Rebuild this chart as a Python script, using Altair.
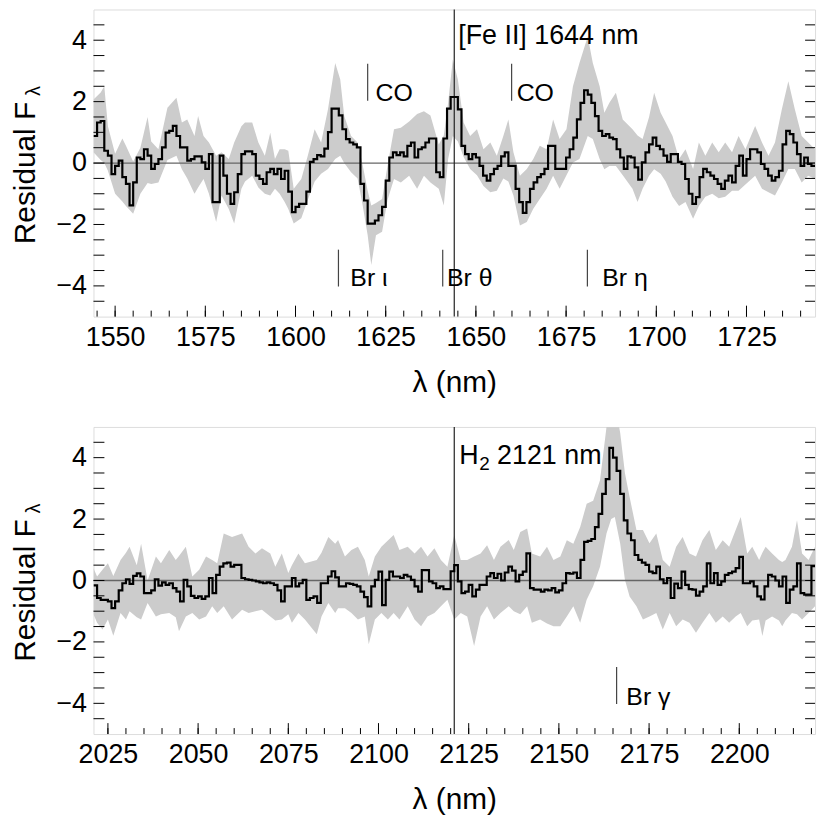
import altair as alt
import pandas as pd

# ---------------- data ----------------
lam_top_start = 1544
flux_top = [
    0.88, 1.32, 1.37, 0.40, 0.24, -0.36, -0.09, 0.08, -0.46, -0.68,
    -1.38, -0.63, 0.18, 0.13, 0.45, 0.24, -0.19, -0.03, 0.13, 0.51,
    0.99, 1.05, 1.21, 0.88, 0.51, 0.51, 0.08, 0.13, 0.22, 0.22,
    0.02, -0.19, 0.29, -1.27, -1.27, 0.24, -0.41, -1.00, -1.33, -0.95,
    -0.36, 0.29, 0.38, 0.38, 0.29, -0.41, -0.52, -0.68, -0.30, -0.19,
    -0.36, -0.19, -0.52, -0.25, -0.93, -1.60, -1.43, -1.33, -1.33, -0.93,
    0.04, 0.13, 0.26, 0.22, 0.47, 1.01, 1.77, 1.77, 1.55, 1.10,
    0.78, 0.67, 0.61, 0.51, -0.68, -1.22, -1.97, -1.97, -1.87, -1.70,
    -1.43, -0.57, 0.18, 0.35, 0.26, 0.35, 0.22, 0.56, 0.67, 0.18,
    0.45, 0.51, 0.67, 0.80, 0.80, -0.30, -0.46, 0.80, 1.77, 2.15,
    2.15, 1.75, 0.56, 0.29, 0.13, 0.29, 0.18, -0.09, -0.41, -0.57,
    -0.36, -0.19, -0.09, 0.22, 0.35, -0.09, -0.09, -0.84, -1.27, -1.62,
    -1.27, -0.84, -0.63, -0.46, -0.36, -0.19, 0.56, 0.56, -0.19, -0.19,
    -0.19, 0.18, 0.45, 0.83, 1.42, 1.96, 2.37, 2.23, 1.96, 1.53,
    1.05, 0.88, 0.94, 0.83, 0.78, 0.45, 0.18, -0.19, 0.22, 0.18,
    -0.14, -0.54, 0.02, 0.35, 0.61, 0.83, 0.56, 0.45, 0.24, 0.04,
    0.29, 0.29, 0.04, -0.03, -0.52, -1.00, -1.33, -1.11, -0.46, -0.19,
    -0.30, -0.41, -0.52, -0.68, -0.84, -0.57, -0.41, -0.63, -0.09, 0.24,
    -0.41, 0.13, 0.45, 0.45, 0.35, -0.03, -0.19, -0.41, -0.57, -0.46,
    -0.25, 0.61, 1.05, 0.94, 0.67, 0.29, -0.09, 0.18, -0.03, -0.09,
]

env_top_lam = [
    1544, 1546, 1547, 1548, 1550, 1552, 1553, 1555, 1557, 1559,
    1560, 1562, 1564.5, 1567, 1568.5, 1570, 1572, 1573, 1574.5, 1576,
    1578, 1579.5, 1581.5, 1583, 1585, 1586, 1588, 1589.7, 1591.5, 1593,
    1594.3, 1595.6, 1597, 1598, 1599.5, 1601.6, 1603.4, 1605.3, 1607.1, 1609,
    1611, 1612.4, 1613.5, 1615.4, 1617.2, 1618.5, 1620, 1621, 1622.3, 1624,
    1625.5, 1627.3, 1629.2, 1631.5, 1633.7, 1635.6, 1637.4, 1639.7, 1641.1, 1642.3,
    1643.6, 1645, 1646.6, 1648.4, 1650.3, 1652.1, 1654, 1655.8, 1657.6, 1659,
    1660.4, 1662.2, 1664.1, 1665.9, 1667.7, 1669.6, 1671.4, 1673.2, 1675.1, 1676.9,
    1678.7, 1681, 1682.4, 1684.3, 1685.6, 1687, 1688.8, 1690.7, 1693.4, 1694.8,
    1696.2, 1698, 1699.4, 1701.2, 1702.6, 1704.5, 1706.3, 1708.1, 1710.2, 1711.8,
    1713.6, 1715.5, 1717.3, 1719.1, 1721, 1722.8, 1724.7, 1727.4, 1729.3, 1731.1,
    1732.9, 1734.8, 1736.6, 1738.4, 1740.3, 1742.1, 1744,
]
env_top_lo = [
    0.35, 0.10, 0.00, -0.25, -1.00, -1.25, -1.40, -1.65, -1.00, -0.65,
    -0.68, -0.63, 0.10, 0.24, -0.20, -0.50, -1.00, -0.80, -0.52, -1.00,
    -1.92, -1.06, -1.50, -1.97, -0.84, -0.60, -0.41, -0.80, -1.00, -1.06,
    -0.84, -1.00, -1.27, -1.50, -1.97, -1.80, -1.20, -0.60, -0.35, -0.19,
    0.13, 0.24, 0.00, -0.30, -0.50, -1.30, -2.35, -3.32, -2.35, -2.24,
    -1.20, -0.52, -0.63, -0.41, -0.84, -0.41, -0.63, -0.84, -1.38, 0.13,
    0.88, 0.70, 0.20, -0.19, -0.40, -0.75, -0.95, -0.90, -0.50, -0.60,
    -1.06, -2.03, -1.92, -1.49, -1.17, -0.84, -0.41, -0.84, -0.40, 0.02,
    0.13, 0.88, 0.78, 0.13, -0.20, -0.10, -0.10, -0.40, -0.84, -1.27,
    -0.84, -0.41, -0.20, -0.35, -0.60, -1.10, -1.40, -1.27, -1.81, -1.40,
    -1.10, -1.00, -1.15, -1.10, -0.90, -0.90, -0.70, -0.41, -0.84, -0.95,
    -1.06, -0.63, -0.19, -0.19, -0.63, -0.41, -0.52,
]
env_top_hi = [
    2.07, 2.30, 2.50, 1.20, 0.30, 0.80, 0.56, 0.05, 0.50, 1.50,
    0.70, 0.45, 1.80, 2.13, 1.32, 1.42, 0.88, 1.53, 0.88, 0.67,
    0.24, 0.35, 0.13, 0.67, 1.20, 1.32, 1.32, 0.67, 0.24, 0.99,
    0.13, 0.45, 0.45, 0.40, -0.84, -0.52, 0.24, 1.10, 0.67, 1.75,
    3.26, 2.72, 1.53, 0.88, 0.67, 0.00, -0.90, -1.38, -1.30, -1.17,
    -0.09, 1.10, 1.15, 1.35, 1.60, 1.69, 1.55, 0.60, 0.90, 1.96,
    3.37, 2.72, 1.32, 0.88, 1.10, 0.45, 0.67, 0.24, 0.88, 1.42,
    0.35, -0.41, -0.19, 0.13, 0.56, 0.45, 1.42, 0.78, 1.10, 2.50,
    3.26, 4.12, 3.26, 2.50, 1.64, 1.96, 2.29, 1.42, 1.10, 0.90,
    0.78, 1.50, 2.29, 1.64, 1.32, 0.88, 0.13, 0.45, -0.19, 0.67,
    0.24, 0.67, 0.35, 0.67, 0.35, 0.88, 0.45, 1.21, 0.67, 0.24,
    0.67, 1.75, 2.66, 1.75, 0.88, 0.67, 0.45,
]

lam_bot_start = 2021
flux_bot = [
    -0.16, -0.57, -0.63, -0.63, -0.68, -0.90, -0.68, -0.32, -0.09, 0.04,
    -0.11, 0.15, 0.23, 0.13, -0.41, -0.41, -0.32, 0.04, -0.17, -0.06,
    -0.14, -0.09, -0.25, -0.36, -0.68, 0.02, -0.19, -0.50, -0.57, -0.52,
    -0.60, -0.52, 0.08, -0.41, 0.18, 0.45, 0.56, 0.58, 0.45, 0.51,
    0.51, 0.08, 0.04, 0.02, 0.00, -0.03, -0.06, -0.09, -0.06, -0.09,
    -0.14, -0.32, -0.68, -0.19, -0.19, 0.08, -0.19, -0.09, 0.02, -0.63,
    -0.57, -0.52, -0.73, -0.09, -0.09, 0.13, 0.30, 0.10, -0.19, -0.19,
    -0.09, -0.11, -0.14, -0.19, -0.36, -0.54, -0.84, -0.19, 0.02, 0.29,
    -0.80, 0.02, 0.29, 0.13, 0.13, 0.08, 0.18, 0.13, 0.02, -0.19,
    -0.36, 0.34, 0.34, -0.03, -0.09, -0.25, -0.19, -0.28, -0.28, 0.30,
    0.50, -0.03, -0.41, -0.36, -0.14, -0.52, -0.30, -0.14, -0.14, 0.13,
    0.24, 0.08, 0.22, 0.00, 0.26, 0.45, 0.32, -0.03, 0.18, 0.29,
    0.88, -0.25, -0.30, -0.30, -0.36, -0.30, -0.32, -0.25, -0.39, -0.32,
    -0.09, 0.24, 0.22, 0.26, 0.08, 0.67, 1.26, 1.29, 1.35, 1.74,
    2.17, 2.82, 3.30, 4.32, 4.00, 3.57, 2.82, 1.96, 1.53, 1.31,
    0.83, 0.67, 0.58, 0.51, 0.29, 0.24, 0.45, 0.04, -0.09, 0.08,
    -0.57, -0.10, -0.25, 0.29, -0.14, -0.28, -0.30, -0.49, -0.36, -0.19,
    0.56, -0.09, 0.24, -0.14, -0.03, 0.18, 0.24, 0.29, 0.40, 0.77,
    -0.09, -0.09, -0.03, -0.19, -0.52, -0.62, -0.19, 0.18, 0.13, 0.00,
    -0.19, 0.13, -0.73, -0.30, -0.19, 0.56, -0.41, -0.46, -0.46, 0.47,
]

env_bot_lam = [
    2021, 2022, 2023.5, 2025, 2026.5, 2028.5, 2030, 2031, 2033, 2034.2,
    2036, 2038.3, 2039.7, 2042, 2043.8, 2044.7, 2046.6, 2048.4, 2050.3, 2052.2,
    2053.9, 2055.3, 2057.1, 2059.4, 2062.2, 2064, 2065.9, 2067.7, 2070, 2071.4,
    2073.2, 2075, 2076, 2077.8, 2079.6, 2082.9, 2084.2, 2086.1, 2088, 2088.8,
    2090.7, 2092.5, 2094.3, 2096.2, 2097.3, 2099, 2100.8, 2102.6, 2104.2, 2105.8,
    2108.1, 2110, 2111.8, 2113.6, 2115.5, 2117.3, 2119.1, 2121, 2122.8, 2124.6,
    2126.5, 2128.3, 2130.1, 2132, 2133.8, 2136.1, 2137.5, 2139.3, 2141.2, 2142.5,
    2144.8, 2146.7, 2148.5, 2150.4, 2152.2, 2154, 2155.9, 2157.7, 2159.5, 2161.4,
    2163.2, 2164.5, 2165.5, 2167, 2168.3, 2169.6, 2171.5, 2173.3, 2175.1, 2177,
    2178.8, 2180.7, 2182.5, 2184.3, 2186.2, 2188, 2189.8, 2191.7, 2193.5, 2195.4,
    2197.2, 2199, 2200.4, 2202.2, 2203.6, 2205.5, 2206.4, 2207.3, 2209.1, 2211,
    2211.9, 2212.8, 2214.6, 2216, 2217.4, 2219.2, 2221,
]
env_bot_lo = [
    -1.10, -1.38, -1.60, -1.27, -1.80, -1.06, -1.27, -1.00, -1.20, -1.27,
    -0.73, -1.17, -1.10, -1.06, -1.20, -1.65, -1.17, -1.06, -1.27, -1.17,
    -0.84, -1.06, -0.84, -1.27, -0.95, -1.06, -1.00, -0.95, -1.17, -1.30,
    -1.27, -1.10, -1.38, -1.06, -1.27, -1.75, -1.17, -0.73, -1.06, -0.90,
    -0.90, -1.06, -1.27, -1.17, -2.08, -1.27, -1.06, -1.27, -1.06, -1.27,
    -0.84, -1.27, -1.49, -1.17, -1.06, -0.84, -0.63, -1.27, -1.06, -1.17,
    -2.13, -1.17, -0.84, -1.27, -1.06, -0.84, -1.00, -1.10, -0.84, -1.38,
    -1.27, -1.40, -1.49, -1.49, -1.17, -0.84, -1.38, -0.63, -0.19, 0.45,
    1.53, 2.00, 2.07, 1.20, 0.02, -0.52, -0.84, -1.27, -1.17, -1.06,
    -1.60, -1.06, -1.49, -1.27, -1.38, -1.70, -1.38, -1.06, -1.38, -1.17,
    -1.38, -1.17, -1.06, -1.49, -1.30, -1.27, -1.81, -1.30, -1.17, -1.30,
    -1.49, -1.30, -1.06, -1.10, -1.27, -1.06, -0.84,
]
env_bot_hi = [
    0.40, 0.13, 0.35, 0.56, 0.15, 0.67, 0.90, 1.10, 0.50, 1.20,
    0.00, 0.78, 0.56, 0.99, 0.67, 0.80, 1.10, 0.13, 0.35, 0.78,
    0.67, 0.56, 1.53, 1.42, 1.53, 1.10, 0.88, 1.05, 0.88, 0.45,
    0.88, 0.24, 0.50, 0.88, 0.56, 0.67, 0.90, 1.42, 1.20, 1.32,
    0.78, 0.99, 1.10, 0.67, 0.13, 0.78, 1.10, 1.30, 1.48, 0.99,
    1.10, 0.88, 1.10, 0.78, 1.05, 0.67, 0.45, 1.48, 0.67, 0.67,
    0.78, 0.88, 1.15, 0.67, 1.10, 1.32, 0.99, 1.58, 1.69, 0.88,
    0.78, 1.10, 0.67, 0.78, 1.31, 1.20, 1.74, 2.50, 2.60, 3.26,
    5.00, 5.80, 5.80, 4.80, 3.50, 2.72, 1.64, 1.64, 1.21, 1.53,
    0.67, 0.45, 1.10, 1.42, 0.88, 0.78, 1.31, 1.64, 0.99, 1.31,
    1.10, 1.64, 2.07, 0.88, 1.10, 0.67, 0.90, 1.10, 0.88, 0.67,
    0.60, 0.67, 1.10, 1.96, 0.88, 0.67, 1.10,
]

x_labels_top = [1550, 1575, 1600, 1625, 1650, 1675, 1700, 1725]
x_labels_bot = [2025, 2050, 2075, 2100, 2125, 2150, 2175, 2200]
y_labels = [-4, -2, 0, 2, 4]
y_ticks = [-4.5, -4, -3.5, -3, -2.5, -2, -1.5, -1, -0.5, 0, 0.5, 1, 1.5, 2, 2.5, 3, 3.5, 4, 4.5]

top_line_at = 1644
bot_line_at = 2121

top_markers = pd.DataFrame({
    "x": [1620.0, 1659.9, 1611.9, 1640.8, 1680.9],
    "y": [2.03, 2.03, -2.82, -2.82, -2.82],
    "y2": [3.23, 3.23, -4.02, -4.02, -4.02],
})
top_big = pd.DataFrame({"x": [1645.1], "y": [4.13], "t": ["[Fe II] 1644 nm"]})
top_small = pd.DataFrame({
    "x": [1622.2, 1661.3, 1615.2, 1642.0, 1685.0],
    "y": [2.27, 2.27, -3.75, -3.75, -3.75],
    "t": ["CO", "CO", "Br ι", "Br θ", "Br η"],
})
bot_markers = pd.DataFrame({"x": [2166.0], "y": [-2.82], "y2": [-4.02]})
bot_big = pd.DataFrame({"x": [2122.4], "y": [4.05], "t": ["H"]})
bot_big_sub = pd.DataFrame({"x": [2122.4], "y": [4.05], "t": ["2"]})
bot_big_rest = pd.DataFrame({"x": [2122.4], "y": [4.05], "t": ["2121 nm"]})
bot_small = pd.DataFrame({"x": [2168.7], "y": [-3.78], "t": ["Br γ"]})

W, H = 726, 309
FONT = "Liberation Sans"


def panel(lam_start, flux, env_lam, env_lo, env_hi, xdom, xlabels, vline, markers,
          big_texts, small_texts):
    lam = [lam_start + i for i in range(len(flux))]
    df_line = pd.DataFrame({"x": lam + [lam[-1] + 1], "y": flux + [flux[-1]]})
    df_env = pd.DataFrame({"x": env_lam, "lo": env_lo, "hi": env_hi})
    xs = alt.Scale(domain=xdom, nice=False, zero=False)
    ys = alt.Scale(domain=[-5, 5], nice=False)
    xax = alt.Axis(values=xlabels, format="d", ticks=False, tickSize=0, domain=False,
                   grid=False, labelFontSize=27, labelFont=FONT, labelColor="black",
                   labelPadding=8, title="λ (nm)", titleFont=FONT, titleFontSize=30,
                   titleFontWeight="normal", titleColor="black", titlePadding=17,
                   labelFlush=False)
    yax = alt.Axis(values=y_labels, format="d", ticks=False, tickSize=0, domain=False,
                   grid=False, labelFontSize=27, labelFont=FONT, labelColor="black",
                   labelPadding=7, title=None)

    def X(f="x"):
        return alt.X(f"{f}:Q", scale=xs, axis=xax)

    def Y(f="y"):
        return alt.Y(f"{f}:Q", scale=ys, axis=yax)

    env = alt.Chart(df_env).mark_area(color="#cccccc", clip=True).encode(
        x=X(), y=Y("lo"), y2="hi:Q")
    zero = alt.Chart(pd.DataFrame({"y": [0]})).mark_rule(color="#666666", strokeWidth=1.3).encode(y=Y())
    vl = alt.Chart(pd.DataFrame({"x": [vline]})).mark_rule(color="#222222", strokeWidth=1.2).encode(x=X())
    line = alt.Chart(df_line).mark_line(interpolate="step-after", color="black",
                                        strokeWidth=2.2, clip=True).encode(x=X(), y=Y())
    mk = alt.Chart(markers).mark_rule(color="#444444", strokeWidth=1.2).encode(
        x=X(), y=Y(), y2="y2:Q")
    layers = [env, zero, vl, line, mk]
    for df, dx, dy, fs in big_texts:
        layers.append(alt.Chart(df).mark_text(align="left", baseline="middle", fontSize=fs,
                                              dx=dx, dy=dy, font=FONT, color="black")
                      .encode(x=X(), y=Y(), text="t:N"))
    layers.append(alt.Chart(small_texts).mark_text(align="left", baseline="middle", fontSize=25,
                                                   font=FONT, color="black")
                  .encode(x=X(), y=Y(), text="t:N"))

    minor = [v for v in range(int(xdom[0]) + 1, int(xdom[1]) + 1) if v % 5 == 0]
    tick_minor = alt.Chart(pd.DataFrame({"x": minor})).mark_rule(color="black", strokeWidth=1).encode(
        x=X(), y=alt.value(H), y2=alt.value(H - 6))
    tick_major = alt.Chart(pd.DataFrame({"x": xlabels})).mark_rule(color="black", strokeWidth=1).encode(
        x=X(), y=alt.value(H), y2=alt.value(H - 11))
    df_yt = pd.DataFrame({"y": y_ticks})
    tick_left = alt.Chart(df_yt).mark_rule(color="black", strokeWidth=1).encode(
        y=Y(), x=alt.value(0), x2=alt.value(11))
    tick_right = alt.Chart(df_yt).mark_rule(color="black", strokeWidth=1).encode(
        y=Y(), x=alt.value(W - 10), x2=alt.value(W))

    ytitle = alt.Chart(pd.DataFrame({"t": ["Residual F"]})).mark_text(
        angle=270, align="center", baseline="middle", fontSize=30, font=FONT, color="black"
    ).encode(text="t:N", x=alt.value(-68), y=alt.value(H / 2 + 10))
    ysub = alt.Chart(pd.DataFrame({"t": ["λ"]})).mark_text(
        angle=270, align="center", baseline="middle", fontSize=20, font=FONT, color="black"
    ).encode(text="t:N", x=alt.value(-60), y=alt.value(82))

    layers += [tick_minor, tick_major, tick_left, tick_right, ytitle, ysub]
    return alt.layer(*layers).properties(width=W, height=H)


top = panel(lam_top_start, flux_top, env_top_lam, env_top_lo, env_top_hi, [1544, 1744],
            x_labels_top, top_line_at, top_markers,
            [(top_big, 0, 0, 27)], top_small)
bot = panel(lam_bot_start, flux_bot, env_bot_lam, env_bot_lo, env_bot_hi, [2021, 2221],
            x_labels_bot, bot_line_at, bot_markers,
            [(bot_big, 0, 0, 27), (bot_big_sub, 20, 8, 19), (bot_big_rest, 38, 0, 27)],
            bot_small)

chart = alt.vconcat(top, bot, spacing=27).properties(
    padding={"left": 2, "top": -3, "right": 5, "bottom": 5}
).configure_view(stroke="black", strokeWidth=1.5).configure(background="white")

chart.save("out.html", embed_options={"renderer": "svg", "actions": False})
